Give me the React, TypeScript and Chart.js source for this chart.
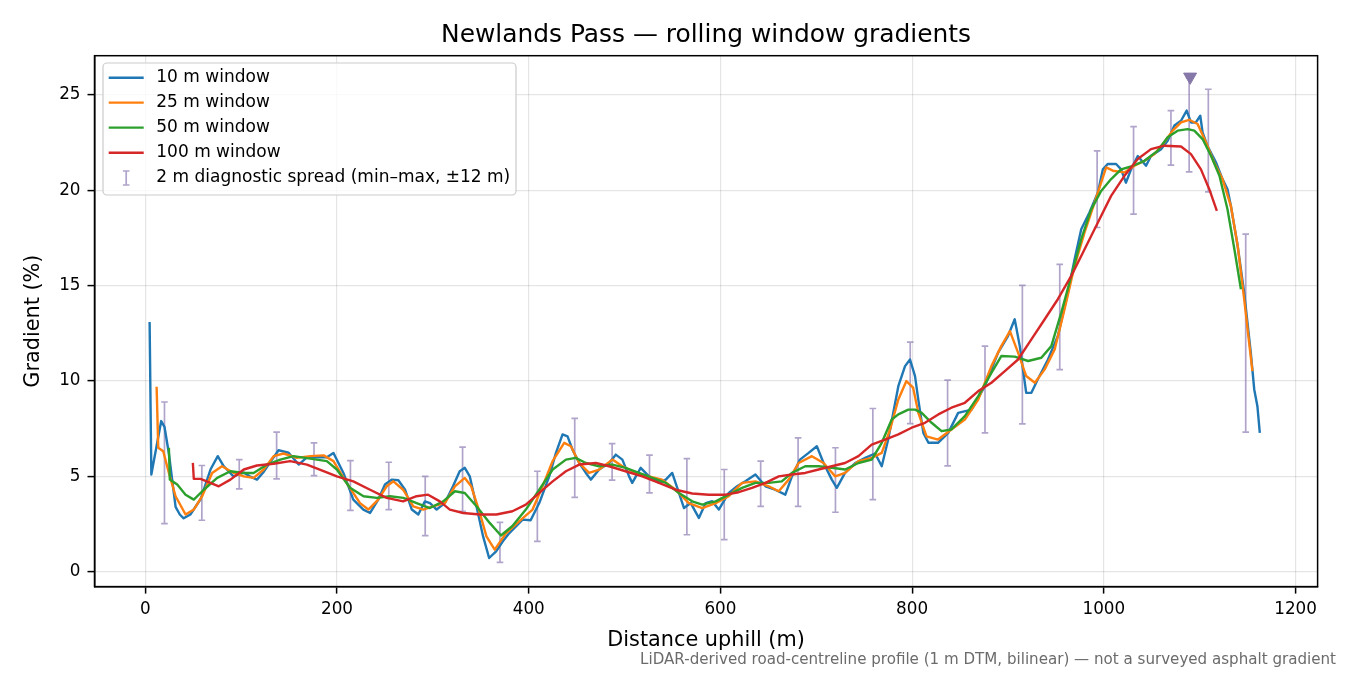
import React, { useEffect, useRef } from "react";
import { Chart, registerables } from "chart.js";

Chart.register(...registerables);

const FONT = "'DejaVu Sans', Verdana, sans-serif";

const xTicks = [0, 200, 400, 600, 800, 1000, 1200];
const yTicks = [0, 5, 10, 15, 20, 25];

// 10 m window
const dist10 = [
  4.5, 6.3, 16.6, 20, 24.6, 31.6, 36, 40, 47, 57.6,
  68, 75.6, 81.9, 92, 102.6, 109, 116.5, 123, 130, 139,
  149.5, 160, 168.6, 179, 189.4, 196.3, 206.7, 217, 227.5, 234.5,
  243, 250, 257, 264, 271, 278, 284.8, 291.7, 297, 303.9,
  312.5, 321, 328, 333.3, 338.5, 345.5, 352.4, 358.7, 366, 373,
  380, 393.6, 402, 411, 421.4, 428.4, 435.3, 440.5, 445.7, 452.7,
  459.6, 464.8, 473.5, 483.9, 490.8, 497.7, 504.7, 508, 516.8, 525.5,
  535.9, 543, 549.7, 556.7, 562, 569, 577.5, 584.6, 591.4, 598.3,
  608.7, 617.4, 626, 636.5, 647, 657, 667.7, 674.6, 683, 692,
  700.6, 707.6, 716.2, 721.4, 730, 740.6, 751, 761.4, 768.3, 775,
  785.6, 792.6, 797.8, 803, 806.5, 811.7, 817, 827, 837.7, 848,
  862, 875.9, 889.7, 900, 907, 912.3, 919, 924.4, 931, 941.7,
  952, 962.5, 969.5, 976.4, 985, 993.8, 999, 1004, 1012.8, 1018,
  1023, 1028.4, 1035.4, 1044, 1049.2, 1059.7, 1066.6, 1073.6, 1080.5, 1086.4,
  1090.9, 1096, 1100.6, 1103, 1108, 1116.9, 1123.8, 1129, 1132.5, 1139.6,
  1146.4, 1153.3, 1156.9, 1160.2, 1162.7,
];
const grad10 = [
  13.1, 5.1, 7.9, 7.6, 6.2, 3.4, 3.0, 2.8, 3.0, 3.8,
  5.36, 6.06, 5.53, 5.0, 5.2, 5.0, 4.83, 5.2, 5.72, 6.37,
  6.24, 5.62, 6.0, 6.0, 6.0, 6.23, 5.18, 3.78, 3.26, 3.08,
  3.78, 4.57, 4.83, 4.8, 4.3, 3.26, 3.0, 3.69, 3.6, 3.26,
  3.6, 4.48, 5.27, 5.45, 5.0, 3.43, 1.85, 0.72, 1.07, 1.6,
  2.04, 2.73, 2.7, 3.6, 5.0, 6.23, 7.2, 7.1, 6.4, 5.7,
  5.18, 4.83, 5.36, 5.7, 6.14, 5.88, 5.0, 4.66, 5.45, 5.0,
  4.66, 4.83, 5.18, 4.13, 3.34, 3.6, 2.82, 3.6, 3.7, 3.26,
  4.13, 4.48, 4.74, 5.1, 4.48, 4.3, 4.04, 5.0, 5.88, 6.23,
  6.58, 5.7, 4.83, 4.4, 5.18, 5.7, 5.97, 6.2, 5.53, 6.93,
  9.73, 10.78, 11.13, 10.26, 9.0, 7.28, 6.76, 6.76, 7.28, 8.33,
  8.5, 9.73, 11.49, 12.36, 13.24, 11.83, 9.38, 9.38, 10.08, 11.13,
  12.36, 14.64, 16.39, 17.96, 18.84, 19.89, 21.1, 21.38, 21.38, 21.1,
  20.4, 21.1, 21.8, 21.29, 21.8, 22.16, 22.6, 23.4, 23.65, 24.18,
  23.56, 23.56, 23.91, 23.04, 22.34, 21.47, 20.59, 20.06, 19.19, 17.09,
  14.64, 11.49, 9.56, 8.68, 7.28,
];

// 25 m window
const dist25 = [
  11.8, 13.5, 18.7, 24.6, 31.6, 42, 50.6, 59.3, 69.7, 80,
  92.3, 102.7, 113, 123.5, 133.9, 144.3, 158, 172, 186, 196.3,
  210, 224, 232.7, 243, 251.8, 258.8, 269, 279.6, 290, 300,
  312.5, 323, 333.3, 340, 349, 355.9, 364.5, 376, 390, 404,
  414.5, 424.9, 437, 444, 452.7, 463, 473.5, 487.3, 497.7, 511.6,
  525.5, 539, 553.3, 567, 581, 595, 608.7, 622.6, 636.5, 650.4,
  660.8, 671.2, 681.6, 695.4, 707.6, 719.8, 730, 744, 757.8, 768.3,
  777, 785.6, 794, 801, 806.5, 815, 827, 841, 855, 869,
  882.7, 893, 902, 910.5, 919, 928, 938.3, 948.7, 959, 969.5,
  979.9, 990.3, 997.2, 1002.4, 1009.4, 1021.5, 1032, 1042.4, 1052.8, 1063,
  1071.8, 1080.5, 1089, 1097.8, 1106.5, 1115, 1123.8, 1132.5, 1139.6, 1146.4,
  1151.6, 1155,
];
const grad25 = [
  9.7, 6.5, 6.32, 5.18, 3.96, 3.0, 3.26, 3.96, 5.18, 5.53,
  5.18, 5.0, 4.92, 5.36, 6.06, 6.2, 5.97, 6.06, 6.1, 5.8,
  4.66, 3.6, 3.26, 3.78, 4.48, 4.74, 4.3, 3.43, 3.26, 3.43,
  3.6, 4.48, 4.92, 4.48, 3.08, 1.85, 1.16, 2.0, 2.64, 3.26,
  4.48, 5.8, 6.76, 6.58, 5.7, 5.18, 5.36, 5.88, 5.53, 5.18,
  5.0, 4.83, 4.3, 3.6, 3.34, 3.6, 3.96, 4.66, 4.74, 4.48,
  4.22, 4.83, 5.7, 6.06, 5.7, 5.0, 5.18, 5.8, 5.97, 6.23,
  7.46, 9.03, 10.0, 9.65, 8.33, 7.1, 6.93, 7.46, 7.98, 9.03,
  10.78, 11.83, 12.62, 11.49, 10.26, 9.91, 10.61, 11.66, 13.76, 16.04,
  17.79, 19.36, 20.41, 21.2, 21.03, 20.94, 21.29, 21.55, 21.9, 22.52,
  23.13, 23.56, 23.7, 23.48, 22.52, 21.47, 20.59, 19.19, 17.1, 14.29,
  12.0, 10.52,
];

// 50 m window
const dist50 = [
  24.6, 25.6, 33.3, 42, 50.6, 61, 75, 88.8, 102.7, 113,
  127, 140.8, 154.7, 172, 189.4, 199.8, 213.6, 227.6, 241.4, 255.3,
  269.2, 283, 296.9, 310.8, 323, 333.3, 345.5, 359.3, 371, 383,
  397, 411, 425, 438.8, 449, 459.6, 473.5, 487.3, 501, 515,
  529, 543, 556.7, 570.6, 581, 595, 608.7, 622.6, 636.5, 650.4,
  664, 674.6, 688.5, 702.4, 716.2, 730, 744, 757.8, 768.3, 778.7,
  785.6, 796, 803, 810, 820.3, 830.7, 841, 855, 869, 882.7,
  893, 907, 921, 934.8, 945.2, 955.6, 966, 976.4, 986.8, 997.2,
  1007.6, 1018, 1028.4, 1042.4, 1056, 1066.6, 1077, 1087.4, 1094.4, 1103,
  1111.9, 1120.6, 1129, 1136.2, 1143,
];
const grad50 = [
  6.5, 4.83, 4.57, 4.04, 3.78, 4.3, 4.92, 5.27, 5.18, 5.18,
  5.62, 5.88, 6.06, 5.93, 5.8, 5.36, 4.4, 3.96, 3.87, 3.96,
  3.87, 3.6, 3.34, 3.69, 4.22, 4.13, 3.43, 2.56, 1.9, 2.4,
  3.26, 4.3, 5.36, 5.88, 5.97, 5.7, 5.53, 5.62, 5.45, 5.18,
  4.92, 4.66, 4.13, 3.69, 3.52, 3.69, 4.04, 4.4, 4.66, 4.66,
  4.74, 5.18, 5.53, 5.53, 5.45, 5.36, 5.7, 5.88, 6.76, 7.98,
  8.25, 8.5, 8.5, 8.33, 7.81, 7.37, 7.46, 8.16, 9.21, 10.43,
  11.31, 11.28, 11.05, 11.22, 11.83, 13.59, 15.51, 17.44, 19.0, 19.97,
  20.59, 21.1, 21.25, 21.55, 22.07, 22.78, 23.13, 23.21, 23.13, 22.69,
  21.8, 20.76, 19.01, 16.91, 14.81,
];

// 100 m window
const dist100 = [
  49.6, 50.6, 57.6, 68, 76.6, 88.8, 102.7, 116.5, 133.9, 151.2,
  168.6, 186, 199.8, 217, 234.5, 251.8, 269, 283, 295, 307.3,
  317.7, 331.6, 349, 366.3, 383, 397, 411, 425, 438.8, 452.7,
  470, 483.9, 501, 518.5, 535.9, 553.3, 570.6, 588, 605.3, 619,
  633, 647, 660.8, 674.6, 688.5, 702.4, 716.2, 730, 744, 757.8,
  771.8, 785.6, 799.5, 813.4, 827.3, 841, 855, 869, 882.7, 896.7,
  910.5, 924.4, 938.3, 952, 966, 979.9, 993.8, 1007.6, 1021.5, 1035.4,
  1049.2, 1063, 1080.5, 1090.9, 1101.3, 1110, 1117.9,
];
const grad100 = [
  5.71, 4.87, 4.87, 4.66, 4.48, 4.83, 5.36, 5.57, 5.66, 5.8,
  5.62, 5.27, 5.0, 4.74, 4.3, 3.87, 3.69, 3.96, 4.04, 3.69,
  3.26, 3.08, 3.0, 3.0, 3.17, 3.52, 4.13, 4.74, 5.27, 5.62,
  5.7, 5.53, 5.27, 5.0, 4.66, 4.3, 4.1, 4.04, 4.04, 4.17,
  4.4, 4.66, 5.0, 5.1, 5.18, 5.36, 5.53, 5.7, 6.06, 6.67,
  6.93, 7.2, 7.55, 7.81, 8.25, 8.6, 8.86, 9.47, 9.91, 10.52,
  11.13, 12.18, 13.24, 14.29, 15.51, 16.91, 18.31, 19.71, 20.76, 21.64,
  22.16, 22.34, 22.3, 21.9, 21.1, 20.06, 18.92,
];

// 2 m diagnostic spread (min-max)
const spreadDist = [
  20, 59, 98, 137, 176, 214, 254, 292, 331, 370,
  409, 448, 487, 526, 565, 604, 642, 681, 720, 759,
  798, 837, 876, 915, 954, 993, 1031, 1070, 1089, 1109,
  1148,
];
const spreadMin = [
  2.52, 2.7, 4.34, 4.87, 5.04, 3.22, 3.26, 1.89, 3.17, 0.49,
  1.59, 3.9, 4.8, 4.13, 1.94, 1.68, 3.43, 3.43, 3.12, 3.78,
  7.77, 5.55, 7.28, 7.75, 10.6, 18.05, 18.75, 21.32, 20.97, 19.92,
  7.32,
];
const spreadMax = [
  8.9, 5.57, 5.88, 7.32, 6.76, 5.83, 5.74, 5.0, 6.53, 2.59,
  5.27, 8.04, 6.72, 6.11, 5.93, 5.36, 5.8, 7.02, 6.5, 8.56,
  12.04, 10.05, 11.83, 15.02, 16.12, 22.07, 23.34, 24.18, 25.9, 25.3,
  17.7,
];

const peakDist = [1090];
const peakGrad = [25.95];

const seriesLabels = ["10 m window", "25 m window", "50 m window", "100 m window"];
const seriesColors = ["#1f77b4", "#ff7f0e", "#2ca02c", "#d62728"];
const spreadLabel = "2 m diagnostic spread (min\u2013max, \u00b112 m)";
const spreadColor = "rgba(123, 104, 166, 0.6)";
const peakColor = "#8677a9";

const titleText = "Newlands Pass \u2014 rolling window gradients";
const footText =
  "LiDAR-derived road-centreline profile (1 m DTM, bilinear) \u2014 not a surveyed asphalt gradient";

const pts = (xs: number[], ys: number[]) => xs.map((x, i) => ({ x, y: ys[i] }));

const errorBars = {
  id: "errorBars",
  beforeDatasetsDraw(chart: any) {
    const { ctx, chartArea, scales } = chart;
    ctx.save();
    ctx.beginPath();
    ctx.rect(chartArea.left, chartArea.top, chartArea.right - chartArea.left, chartArea.bottom - chartArea.top);
    ctx.clip();
    ctx.strokeStyle = spreadColor;
    ctx.lineWidth = 1.7;
    spreadDist.forEach((d, i) => {
      const px = scales.x.getPixelForValue(d);
      const y1 = scales.y.getPixelForValue(spreadMin[i]);
      const y2 = scales.y.getPixelForValue(spreadMax[i]);
      ctx.beginPath();
      ctx.moveTo(px, y1);
      ctx.lineTo(px, y2);
      ctx.moveTo(px - 3.3, y1);
      ctx.lineTo(px + 3.3, y1);
      ctx.moveTo(px - 3.3, y2);
      ctx.lineTo(px + 3.3, y2);
      ctx.stroke();
    });
    ctx.restore();
  },
};

const decorations = {
  id: "decorations",
  afterDraw(chart: any) {
    const { ctx, chartArea } = chart;
    const { left, top, right, bottom } = chartArea;
    ctx.save();
    // frame
    ctx.strokeStyle = "#000";
    ctx.lineWidth = 1.5;
    ctx.strokeRect(left, top, right - left, bottom - top);

    // title
    ctx.fillStyle = "#000";
    ctx.font = `24.9px ${FONT}`;
    ctx.textAlign = "center";
    ctx.textBaseline = "alphabetic";
    ctx.fillText(titleText, (left + right) / 2, 42);

    // footnote
    ctx.fillStyle = "#6b6b6b";
    ctx.font = `15.1px ${FONT}`;
    ctx.textAlign = "right";
    ctx.textBaseline = "middle";
    ctx.fillText(footText, 1336, 660);

    // legend
    const bx = 103, by = 63, bw = 413, bh = 132;
    ctx.beginPath();
    ctx.roundRect(bx, by, bw, bh, 4);
    ctx.fillStyle = "rgba(255,255,255,0.8)";
    ctx.fill();
    ctx.strokeStyle = "#cccccc";
    ctx.lineWidth = 1.2;
    ctx.stroke();

    ctx.font = `17px ${FONT}`;
    ctx.textAlign = "left";
    ctx.textBaseline = "middle";
    const rows = [77.7, 102.6, 127.6, 152.7, 178];
    chart.data.datasets.slice(0, 4).forEach((ds: any, i: number) => {
      ctx.strokeStyle = ds.borderColor;
      ctx.lineWidth = 2.4;
      ctx.beginPath();
      ctx.moveTo(108.7, rows[i]);
      ctx.lineTo(143.7, rows[i]);
      ctx.stroke();
      ctx.fillStyle = "#000";
      ctx.fillText(ds.label, 156.3, rows[i]);
    });
    const ey = rows[4];
    ctx.strokeStyle = spreadColor;
    ctx.lineWidth = 1.7;
    ctx.beginPath();
    ctx.moveTo(126.2, ey - 7);
    ctx.lineTo(126.2, ey + 7);
    ctx.moveTo(122.9, ey - 7);
    ctx.lineTo(129.5, ey - 7);
    ctx.moveTo(122.9, ey + 7);
    ctx.lineTo(129.5, ey + 7);
    ctx.stroke();
    ctx.fillStyle = "#000";
    ctx.fillText(spreadLabel, 156.3, ey);
    ctx.restore();
  },
};

const lineSet = (label: string, color: string, data: any[], order: number) => ({
  type: "line",
  label,
  data,
  borderColor: color,
  backgroundColor: color,
  borderWidth: 2.4,
  borderJoinStyle: "round",
  pointRadius: 0,
  pointHoverRadius: 0,
  tension: 0,
  fill: false,
  order,
});

export default function App() {
  const canvasRef = useRef<HTMLCanvasElement | null>(null);

  useEffect(() => {
    document.body.style.margin = "0";
    const ctx = canvasRef.current?.getContext("2d");
    if (!ctx) return;

    const config: any = {
      type: "line",
      data: {
        datasets: [
          lineSet(seriesLabels[0], seriesColors[0], pts(dist10, grad10), 4),
          lineSet(seriesLabels[1], seriesColors[1], pts(dist25, grad25), 3),
          lineSet(seriesLabels[2], seriesColors[2], pts(dist50, grad50), 2),
          lineSet(seriesLabels[3], seriesColors[3], pts(dist100, grad100), 1),
          {
            type: "scatter",
            label: "peak",
            data: pts(peakDist, peakGrad),
            pointStyle: "triangle",
            rotation: 180,
            pointRadius: 7.5,
            backgroundColor: peakColor,
            borderColor: peakColor,
            borderWidth: 1,
            showLine: false,
            order: 0,
          },
        ],
      },
      options: {
        animation: false,
        responsive: false,
        maintainAspectRatio: false,
        events: [],
        layout: { padding: { left: 0, right: 32.4, top: 55.7, bottom: 0 } },
        plugins: {
          legend: { display: false },
          tooltip: { enabled: false },
          title: { display: false },
        },
        scales: {
          x: {
            type: "linear",
            min: -53,
            max: 1223,
            afterBuildTicks: (s: any) => {
              s.ticks = xTicks.map((value) => ({ value }));
            },
            afterFit: (s: any) => {
              s.height = 88.4;
            },
            grid: {
              color: "rgba(0,0,0,0.1)",
              lineWidth: 1.2,
              tickColor: "#000",
              tickLength: 7,
              tickWidth: 1.5,
            },
            border: { display: true, color: "#000", width: 1.5 },
            ticks: {
              color: "#000",
              font: { family: FONT, size: 16.8 },
              padding: 6,
              maxRotation: 0,
              autoSkip: false,
              callback: (v: any) => String(v),
            },
            title: {
              display: true,
              text: "Distance uphill (m)",
              color: "#000",
              font: { family: FONT, size: 20.8 },
              padding: { top: 0, bottom: 21.5 },
            },
          },
          y: {
            type: "linear",
            min: -0.78,
            max: 27.06,
            afterBuildTicks: (s: any) => {
              s.ticks = yTicks.map((value) => ({ value }));
            },
            afterFit: (s: any) => {
              s.width = 94.5;
            },
            grid: {
              color: "rgba(0,0,0,0.1)",
              lineWidth: 1.2,
              tickColor: "#000",
              tickLength: 7,
              tickWidth: 1.5,
            },
            border: { display: true, color: "#000", width: 1.5 },
            ticks: {
              color: "#000",
              font: { family: FONT, size: 16.8 },
              padding: 7,
              callback: (v: any) => String(v),
            },
            title: {
              display: true,
              text: "Gradient (%)",
              color: "#000",
              font: { family: FONT, size: 20.8 },
              padding: { top: 21.5, bottom: 0 },
            },
          },
        },
      },
      plugins: [errorBars, decorations],
    };

    const chart = new Chart(ctx, config);
    return () => {
      chart.destroy();
    };
  }, []);

  return (
    <div style={{ position: "absolute", left: 0, top: 0, width: 1350, height: 675, background: "#fff" }}>
      <canvas ref={canvasRef} width={1350} height={675} style={{ width: 1350, height: 675 }} />
    </div>
  );
}
